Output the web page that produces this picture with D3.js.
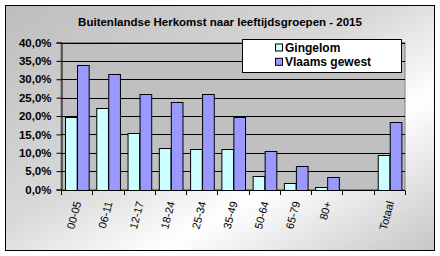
<!DOCTYPE html>
<html>
<head>
<meta charset="utf-8">
<script src="https://cdn.jsdelivr.net/npm/d3@7"></script>
<style>
  html, body { margin: 0; padding: 0; background: #fff; }
  svg { display: block; font-family: "Liberation Sans", Arial, sans-serif; }
</style>
</head>
<body>
<div id="chart"></div>
<script>
// Data (percentages)
const categories = ["00-05", "06-11", "12-17", "18-24", "25-34", "35-49", "50-64", "65-79", "80+", "", "Totaal"];
const gingelom = [19.8, 22.3, 15.5, 11.2, 10.9, 10.9, 3.8, 1.9, 0.6, null, 9.5];
const vlaams = [34.0, 31.3, 26.1, 23.7, 26.1, 19.8, 10.6, 6.3, 3.3, null, 18.5];
const seriesNames = ["Gingelom", "Vlaams gewest"];
const seriesColors = ["#ccffff", "#9999ff"];
const yTicks = [0, 5, 10, 15, 20, 25, 30, 35, 40];
const title = "Buitenlandse Herkomst naar leeftijdsgroepen - 2015";

const width = 440, height = 256;
const plot = { left: 61, right: 405, top: 42.5, bottom: 189.5 };

const svg = d3.select("#chart").append("svg")
    .attr("width", width)
    .attr("height", height);

// Background gradient of the chart frame
const defs = svg.append("defs");
const bg = defs.append("linearGradient")
    .attr("id", "bg-grad")
    .attr("x1", 0).attr("y1", 0)
    .attr("x2", 1).attr("y2", 1);
[[0, "#bdbdbd"], [0.45, "#d9d9d9"], [0.68, "#ffffff"], [1, "#c6c6c6"]].forEach(([o, c]) => {
    bg.append("stop").attr("offset", o).attr("stop-color", c);
});

svg.append("rect")
    .attr("x", 5.5).attr("y", 5.5)
    .attr("width", 429).attr("height", 245)
    .attr("fill", "url(#bg-grad)")
    .attr("stroke", "#000");

// Title
svg.append("text")
    .attr("x", 220).attr("y", 26)
    .attr("text-anchor", "middle")
    .attr("font-size", 11.5)
    .attr("font-weight", "bold")
    .text(title);

// Scales
const x = d3.scaleBand()
    .domain(categories)
    .range([plot.left, plot.right]);

const x1 = d3.scaleBand()
    .domain(seriesNames)
    .range([0, x.bandwidth()])
    .paddingOuter(0.34);

const y = d3.scaleLinear()
    .domain([0, 40])
    .range([plot.bottom, plot.top]);

// Plot area
svg.append("rect")
    .attr("x", plot.left).attr("y", plot.top)
    .attr("width", plot.right - plot.left)
    .attr("height", plot.bottom - plot.top)
    .attr("fill", "#c0c0c0")
    .attr("stroke", "#808080");

// Gridlines
svg.append("g")
    .selectAll("line")
    .data(yTicks.slice(1))
    .join("line")
    .attr("x1", plot.left).attr("x2", plot.right)
    .attr("y1", d => Math.round(y(d)) + 0.5)
    .attr("y2", d => Math.round(y(d)) + 0.5)
    .attr("stroke", "#000");

// Bars
const rows = categories.map((c, i) => ({ cat: c, vals: [gingelom[i], vlaams[i]] }));
const groups = svg.append("g")
    .selectAll("g")
    .data(rows)
    .join("g")
    .attr("transform", d => `translate(${x(d.cat)},0)`);

groups.selectAll("rect")
    .data(d => d.vals.map((v, j) => ({ v, j })).filter(e => e.v != null))
    .join("rect")
    .attr("x", d => Math.round(x1(seriesNames[d.j])) + 0.5)
    .attr("y", d => Math.round(y(d.v)) + 0.5)
    .attr("width", x1.bandwidth())
    .attr("height", d => Math.round(y(0)) - Math.round(y(d.v)))
    .attr("fill", d => seriesColors[d.j])
    .attr("stroke", "#000");

// Y axis
const yAxis = d3.axisLeft(y)
    .tickValues(yTicks)
    .tickSize(5)
    .tickPadding(5)
    .tickFormat(d => d3.format(".1f")(d).replace(".", ",") + "%");

const gy = svg.append("g")
    .attr("transform", `translate(${Math.round(plot.left) + 0.5},0)`)
    .call(yAxis);
gy.selectAll("text")
    .attr("font-size", 11.5)
    .attr("font-weight", "bold")
    .attr("fill", "#000")
    .attr("font-family", "Liberation Sans, Arial, sans-serif");
gy.selectAll("line, path").attr("stroke", "#000");

// X axis line and ticks at category boundaries
const boundaries = categories.map(c => x(c)).concat([plot.right]);
svg.append("line")
    .attr("x1", plot.left).attr("x2", plot.right)
    .attr("y1", Math.round(plot.bottom) + 0.5)
    .attr("y2", Math.round(plot.bottom) + 0.5)
    .attr("stroke", "#000");
svg.append("g")
    .selectAll("line")
    .data(boundaries)
    .join("line")
    .attr("x1", d => Math.round(d) + 0.5).attr("x2", d => Math.round(d) + 0.5)
    .attr("y1", Math.round(plot.bottom) + 0.5)
    .attr("y2", Math.round(plot.bottom) + 5)
    .attr("stroke", "#000");

// Rotated category labels
svg.append("g")
    .selectAll("text")
    .data(categories)
    .join("text")
    .attr("transform", d => `translate(${x(d) + x.bandwidth() / 2 + 1},${plot.bottom + 12}) rotate(-75)`)
    .attr("text-anchor", "end")
    .attr("dy", "0.35em")
    .attr("font-size", 11)
    .text(d => d);

// Legend
const legend = svg.append("g");
legend.append("rect")
    .attr("x", 242.5).attr("y", 39.5)
    .attr("width", 159).attr("height", 33)
    .attr("fill", "#fff")
    .attr("stroke", "#000");

const items = legend.selectAll("g")
    .data(seriesNames)
    .join("g")
    .attr("transform", (d, i) => `translate(275,${47.5 + i * 14.3})`);

items.append("rect")
    .attr("x", 0.5).attr("y", -3.5)
    .attr("width", 7).attr("height", 7)
    .attr("fill", (d, i) => seriesColors[i])
    .attr("stroke", "#000");

items.append("text")
    .attr("x", 10)
    .attr("dy", "0.36em")
    .attr("font-size", 12)
    .attr("font-weight", "bold")
    .text(d => d);
</script>
</body>
</html>
